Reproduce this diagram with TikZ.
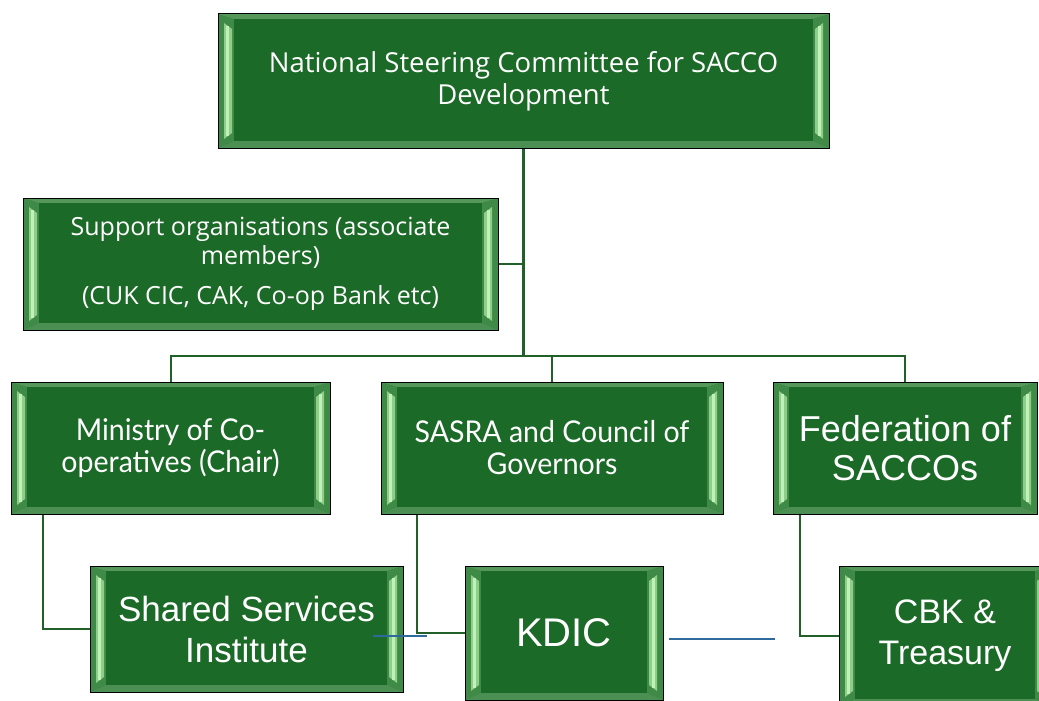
\documentclass[tikz,border=0pt]{standalone}
\usepackage{fontspec}
\usetikzlibrary{calc}
\newfontfamily\fa{Open Sans}
\newfontfamily\fn[FakeStretch=0.95]{Lato}
\newfontfamily\fb{Liberation Sans}
\definecolor{face}{HTML}{1C6A28}
\definecolor{bvmid}{HTML}{3F8A46}
\definecolor{bvtop}{HTML}{55985A}
\definecolor{bvbot}{HTML}{4C8F52}
\definecolor{bvlight}{HTML}{8ECF88}
\definecolor{bvbright}{HTML}{C2F0BA}
\definecolor{link}{HTML}{22602A}
\definecolor{thinblue}{HTML}{2E6A9E}
\tikzset{
  x=1pt, y=-1pt,
  bevel/.style={rectangle, draw=black, line width=1pt, fill=bvmid, inner sep=0pt,
    align=center, text=white,
    path picture={
      \coordinate (bNW) at (path picture bounding box.north west);
      \coordinate (bNE) at (path picture bounding box.north east);
      \coordinate (bSW) at (path picture bounding box.south west);
      \coordinate (bSE) at (path picture bounding box.south east);
      % top and bottom bevels
      \fill[bvtop] (bNW) -- (bNE) -- ($(bNE)+(-16,5)$) -- ($(bNW)+(16,5)$) -- cycle;
      \fill[bvbot] (bSW) -- (bSE) -- ($(bSE)+(-16,-7)$) -- ($(bSW)+(16,-7)$) -- cycle;
      % side bevels with a light highlight band
      \fill[bvmid] (bNW) -- ($(bNW)+(16,5)$) -- ($(bSW)+(16,-7)$) -- (bSW) -- cycle;
      \fill[bvmid] (bNE) -- ($(bNE)+(-16,5)$) -- ($(bSE)+(-16,-7)$) -- (bSE) -- cycle;
      \fill[bvlight] ($(bNW)+(6,9)$) -- ($(bNW)+(14,15)$) -- ($(bSW)+(14,-15)$) -- ($(bSW)+(6,-9)$) -- cycle;
      \fill[bvlight] ($(bNE)+(-6,9)$) -- ($(bNE)+(-14,15)$) -- ($(bSE)+(-14,-15)$) -- ($(bSE)+(-6,-9)$) -- cycle;
      \fill[bvbright] ($(bNW)+(8,12)$) rectangle ($(bSW)+(11,-12)$);
      \fill[bvbright] ($(bNE)+(-8,12)$) rectangle ($(bSE)+(-11,-12)$);
      % front face
      \fill[face] ($(bNW)+(16,5)$) rectangle ($(bSE)+(-16,-7)$);
    }},
  wire/.style={draw=link, line width=2pt},
  trunk/.style={draw=link, line width=3pt},
  blueline/.style={draw=thinblue, line width=1.1pt}
}
\begin{document}
\begin{tikzpicture}
\useasboundingbox (0,0) rectangle (1039,701);
\clip (0,0) rectangle (1039,701);

% hub of the tree
\coordinate (hub) at (523.5,356);

% boxes
\node[bevel, minimum width=611pt, minimum height=134pt,
  font={\fa\fontsize{27.5}{32}\selectfont}] (top) at (523.5,81)
  {National Steering Committee for SACCO\\Development};
\node[bevel, minimum width=475pt, minimum height=132pt,
  font={\fa\fontsize{25}{29}\selectfont}] (support) at (260.5,264)
  {Support organisations (associate\\members)\\[11pt](CUK CIC, CAK, Co-op Bank etc)};
\node[bevel, minimum width=319pt, minimum height=132pt,
  font={\fn\fontsize{30}{32}\selectfont}] (ministry) at (170.5,448)
  {Ministry of Co-\\operatives (Chair)};
\node[bevel, minimum width=342pt, minimum height=132pt,
  font={\fn\fontsize{30}{32}\selectfont}] (sasra) at (552,448)
  {SASRA and Council of\\Governors};
\node[bevel, minimum width=264pt, minimum height=132pt,
  font={\fb\fontsize{36}{39}\selectfont}] (fed) at (905,448)
  {Federation of\\SACCOs};
\node[bevel, minimum width=313pt, minimum height=126pt,
  font={\fb\fontsize{35}{41}\selectfont}] (shared) at (246.5,629)
  {Shared Services\\Institute};
\node[bevel, minimum width=198pt, minimum height=134pt,
  font={\fb\fontsize{40}{48}\selectfont}] (kdic) at (564,633)
  {KDIC};
\node[bevel, minimum width=212pt, minimum height=140pt,
  font={\fb\fontsize{34}{41}\selectfont}] (cbk) at (945,636)
  {CBK \&\\Treasury};

% tree connectors
\draw[trunk] (top.south) -- (hub);
\draw[wire] (support.east) -- (support.east -| hub);
\draw[wire] (hub) -| (ministry.north);
\draw[wire] (hub) -| (sasra.north);
\draw[wire] (hub) -| (fed.north);
\draw[wire] ($(ministry.south west)+(32,0)$) |- (shared.west);
\draw[wire] ($(sasra.south west)+(36,0)$) |- (kdic.west);
\draw[wire] ($(fed.south west)+(27,0)$) |- (cbk.west);

% thin blue strokes
\coordinate (b1a) at (373,636);
\coordinate (b1b) at (427,636);
\coordinate (b2a) at (669,639);
\coordinate (b2b) at (775,639);
\draw[blueline] (b1a) -- (b1b);
\draw[blueline] (b2a) -- (b2b);
\end{tikzpicture}
\end{document}
